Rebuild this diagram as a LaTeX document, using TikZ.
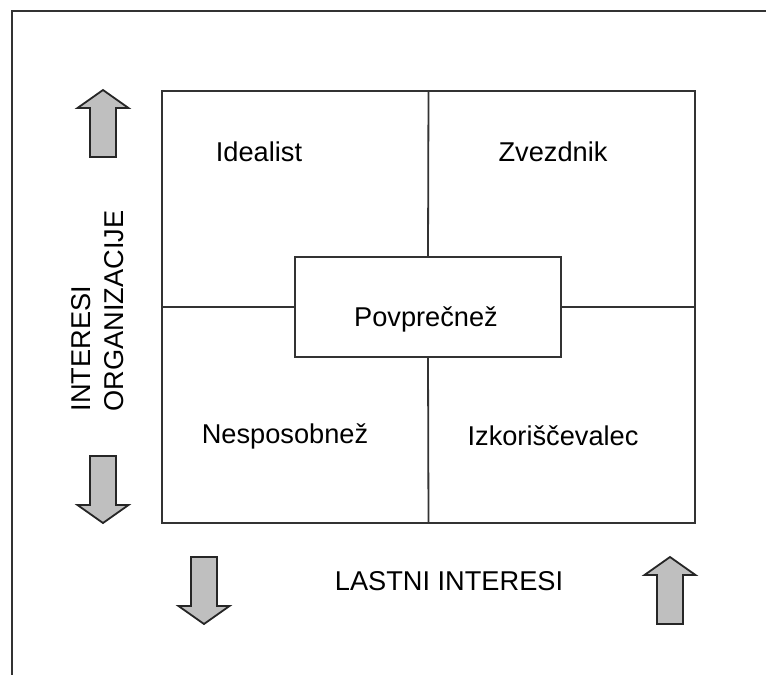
\documentclass[tikz,border=0pt]{standalone}
\usepackage{fontspec}
\setmainfont{Liberation Sans}
\usetikzlibrary{positioning}

\tikzset{
    lbl/.style={font=\fontsize{13.6pt}{16.5pt}\selectfont, inner sep=0pt},
    box/.style={draw=black!80, line width=0.9pt, inner sep=0pt},
    fatarrow/.pic={
        \draw[draw=black!85, fill=black!25, line width=0.9pt, line join=miter]
            (0,0) -- (25.5,18) -- (13,18) -- (13,67) -- (-13,67)
            -- (-13,18) -- (-25.5,18) -- cycle;
    }
}

\begin{document}
\begin{tikzpicture}[x=0.5pt, y=-0.5pt]
    \useasboundingbox (0,0) rectangle (766,675);

    %Frame
    \coordinate (frameTL) at (12,11);
    \coordinate (frameTR) at (766,11);
    \coordinate (frameBL) at (12,675);
    \draw[draw=black!80, line width=1pt] (frameTR) -- (frameTL) -- (frameBL);

    %Nodes
    \node[box, minimum width=266.5pt, minimum height=216pt]
        (grid)  at (428.5,307)  {};
    \node[box, fill=white, minimum width=133pt, minimum height=50pt]
        (avg)   at (428,307)    {};
    \node[lbl] (avgtxt)   at (426,319)       {Povprečnež};
    \node[lbl] (idealist) at (259,152)       {Idealist};
    \node[lbl] (star)     at (553,152)       {Zvezdnik};
    \node[lbl] (weak)     at (285,436)       {Nesposobnež};
    \node[lbl] (user)     at (553,436)       {Izkoriščevalec};
    \node[lbl] (own)      at (449,581)       {LASTNI INTERESI};
    \node[lbl, rotate=90, align=left]
        (org)   at (98,311) {INTERESI\\ORGANIZACIJE};

    %Lines
    \draw[draw=black!80, line width=0.9pt] (grid.north) -- (avg.north);
    \draw[draw=black!80, line width=0.9pt] (avg.south) -- (grid.south);
    \draw[draw=black!80, line width=0.9pt] (grid.west) -- (avg.west);
    \draw[draw=black!80, line width=0.9pt] (avg.east) -- (grid.east);

    %Arrows
    \pic at (103,90)  {fatarrow};
    \pic[rotate=180] at (103,523) {fatarrow};
    \pic[rotate=180] at (204,624) {fatarrow};
    \pic at (670,557) {fatarrow};
\end{tikzpicture}
\end{document}
